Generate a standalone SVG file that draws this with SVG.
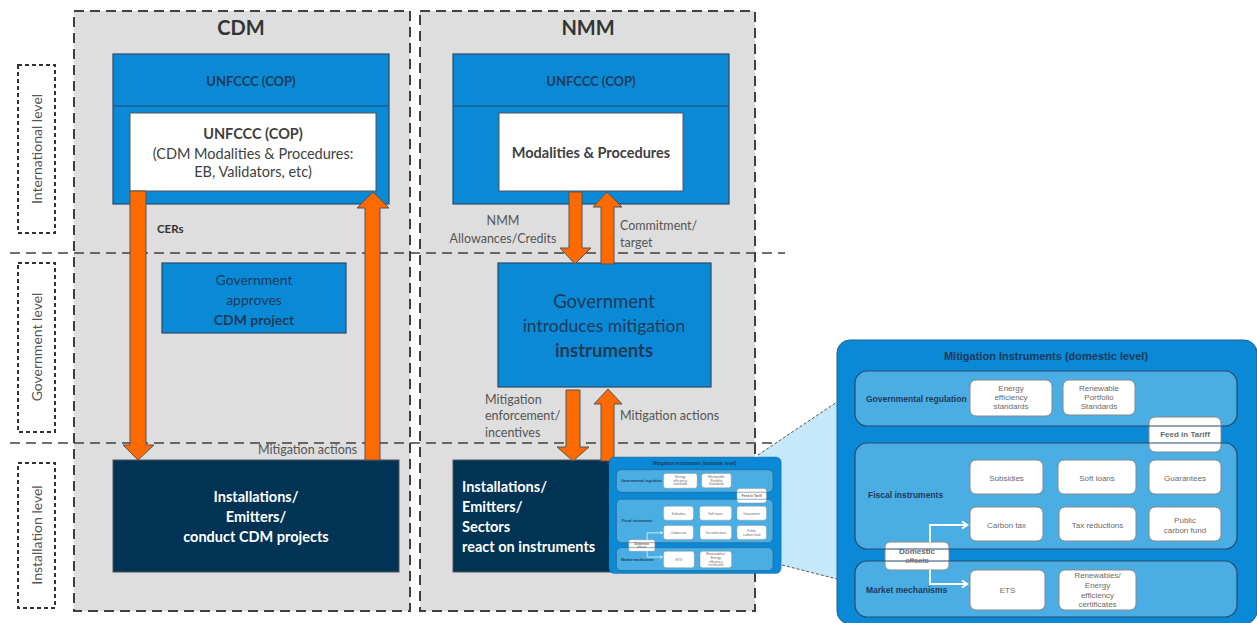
<svg xmlns="http://www.w3.org/2000/svg" xmlns:xlink="http://www.w3.org/1999/xlink" width="1257" height="623" viewBox="0 0 1257 623">
<style>
.cont{fill:#dedede;stroke:#404040;stroke-width:2;stroke-dasharray:10 6}
.lvl{fill:none;stroke:#333;stroke-width:2;stroke-dasharray:4 3}
.lvlt{font-family:Lato,"Liberation Sans",sans-serif;font-size:14px;fill:#555;text-anchor:middle}
.hl{stroke:#404040;stroke-width:1.5;stroke-dasharray:10 6;fill:none}
.blue{fill:#0a8ad6;stroke:#2b4a6b;stroke-width:1.2}
.white{fill:#fff;stroke:#555;stroke-width:1}
.navy{fill:#003354;stroke:#555;stroke-width:1}
.arr{fill:#ff6a00;stroke:#555;stroke-width:1}
.t{font-family:Lato,"Liberation Sans",sans-serif}
.c{text-anchor:middle}
.b{font-weight:bold}
.head{font-size:13px;fill:#1d3a5a;font-weight:bold}
.lab{font-size:12.5px;fill:#555}
.pt{font-family:"Liberation Sans",Arial,sans-serif;font-size:8px;fill:#6a6a6a;text-anchor:middle}
.pl{font-family:"Liberation Sans",Arial,sans-serif;font-size:8.5px;font-weight:bold;fill:#1d3a5a}
.row{fill:#4aaee4}
.rowo{fill:none;stroke:#2b4a6b;stroke-width:1.2}
.ib{fill:#fff;stroke:#888;stroke-width:1}
</style>
<defs>
<marker id="wa" markerWidth="8" markerHeight="8" refX="6" refY="4" orient="auto" markerUnits="userSpaceOnUse">
<path d="M1,0.5 L6.5,4 L1,7.5" fill="none" stroke="#fff" stroke-width="1.8"/>
</marker>
<g id="panel">
<rect x="0" y="0" width="420" height="284" rx="13" fill="#0a8ad6" stroke="#1e5f96" stroke-width="1"/>
<text x="209" y="20" font-family="Liberation Sans,Arial,sans-serif" font-size="11px" font-weight="bold" fill="#1d3a5a" text-anchor="middle">Mitigation Instruments (domestic level)</text>
<rect class="row" x="18" y="31" width="382" height="55" rx="12"/>
<rect class="row" x="18" y="103" width="382" height="106" rx="12"/>
<rect class="row" x="18" y="221" width="382" height="56" rx="12"/>
<text class="pl" x="29" y="62">Governmental regulation</text>
<text class="pl" x="31" y="158">Fiscal instruments</text>
<text class="pl" x="29" y="253">Market mechanisms</text>
<rect class="ib" x="133" y="40" width="82" height="36" rx="6"/>
<text class="pt" x="174" y="51">Energy</text>
<text class="pt" x="174" y="60">efficiency</text>
<text class="pt" x="174" y="69">standards</text>
<rect class="ib" x="226" y="40" width="72" height="35" rx="6"/>
<text class="pt" x="262" y="51">Renewable</text>
<text class="pt" x="262" y="60">Portfolio</text>
<text class="pt" x="262" y="69">Standards</text>
<rect class="ib" x="312" y="77" width="72" height="35" rx="6"/>
<text class="pt" x="348" y="97" font-weight="bold" fill="#333">Feed in Tariff</text>
<rect class="ib" x="133" y="120" width="73" height="34" rx="6"/>
<text class="pt" x="169.5" y="141">Subsidies</text>
<rect class="ib" x="221" y="120" width="78" height="34" rx="6"/>
<text class="pt" x="260" y="141">Soft loans</text>
<rect class="ib" x="312" y="120" width="72" height="34" rx="6"/>
<text class="pt" x="348" y="141">Guarantees</text>
<rect class="ib" x="133" y="167" width="73" height="34" rx="6"/>
<text class="pt" x="169.5" y="188">Carbon tax</text>
<rect class="ib" x="222" y="167" width="77" height="34" rx="6"/>
<text class="pt" x="260.5" y="188">Tax reductions</text>
<rect class="ib" x="312" y="167" width="72" height="34" rx="6"/>
<text class="pt" x="348" y="183">Public</text>
<text class="pt" x="348" y="193">carbon fund</text>
<rect class="ib" x="133" y="230" width="75" height="40" rx="6"/>
<text class="pt" x="170.5" y="253">ETS</text>
<rect class="ib" x="222" y="230" width="77" height="40" rx="6"/>
<text class="pt" x="260.5" y="238">Renewables/</text>
<text class="pt" x="260.5" y="248">Energy</text>
<text class="pt" x="260.5" y="258">efficiency</text>
<text class="pt" x="260.5" y="267">certificates</text>
<rect class="ib" x="48" y="202" width="64" height="28" rx="5"/>
<text class="pt" x="80" y="214" font-weight="bold" fill="#444">Domestic</text>
<text class="pt" x="80" y="223" font-size="6.5px">offsets</text>
<rect class="rowo" x="18" y="31" width="382" height="55" rx="12"/>
<rect class="rowo" x="18" y="103" width="382" height="106" rx="12"/>
<rect class="rowo" x="18" y="221" width="382" height="56" rx="12"/>
<path d="M93,202 V185 H130" fill="none" stroke="#fff" stroke-width="1.8" marker-end="url(#wa)"/>
<path d="M93,230 V244 H130" fill="none" stroke="#fff" stroke-width="1.8" marker-end="url(#wa)"/>
</g>
</defs>

<g id="level-labels">
<rect class="lvl" x="18" y="65" width="37" height="168"/>
<text class="lvlt" transform="translate(42,149) rotate(-90)">International level</text>
<rect class="lvl" x="18" y="263" width="37" height="169"/>
<text class="lvlt" transform="translate(42,347) rotate(-90)">Government level</text>
<rect class="lvl" x="18" y="463" width="37" height="145"/>
<text class="lvlt" transform="translate(42,535) rotate(-90)">Installation level</text>
</g>

<g id="cdm-container">
<rect class="cont" x="74" y="11" width="336" height="600"/>
<text class="t c b" x="241" y="35" font-size="20px" fill="#333">CDM</text>
</g>
<g id="nmm-container">
<rect class="cont" x="420" y="11" width="335" height="600"/>
<text class="t c b" x="588" y="35" font-size="20px" fill="#333">NMM</text>
</g>

<g id="level-lines">
<line class="hl" x1="10" y1="253" x2="785" y2="253"/>
<line class="hl" x1="10" y1="443" x2="775" y2="443"/>
</g>

<g id="cdm-unfccc">
<rect class="blue" x="113" y="54" width="276" height="150"/>
<line x1="113" y1="106" x2="389" y2="106" stroke="#2b4a6b" stroke-width="1.2"/>
<text class="t c head" x="251" y="86">UNFCCC (COP)</text>
</g>
<g id="cdm-modalities">
<rect class="white" x="130" y="113" width="246" height="78"/>
<text class="t c b" x="253" y="139" font-size="14.5px" fill="#404040">UNFCCC (COP)</text>
<text class="t c" x="253" y="159" font-size="14.5px" fill="#404040">(CDM Modalities &amp; Procedures:</text>
<text class="t c" x="253" y="177" font-size="14.5px" fill="#404040">EB, Validators, etc)</text>
</g>
<g id="cdm-government">
<rect class="blue" x="162" y="263" width="184" height="70"/>
<text class="t c" x="254" y="285" font-size="14px" fill="#1d3a5a">Government</text>
<text class="t c" x="254" y="305" font-size="14px" fill="#1d3a5a">approves</text>
<text class="t c b" x="254" y="325" font-size="14px" fill="#1d3a5a">CDM project</text>
</g>
<g id="cdm-installations">
<rect class="navy" x="113" y="460" width="286" height="112"/>
<text class="t c b" x="256" y="502" font-size="14.5px" fill="#fff">Installations/</text>
<text class="t c b" x="256" y="522" font-size="14.5px" fill="#fff">Emitters/</text>
<text class="t c b" x="256" y="542" font-size="14.5px" fill="#fff">conduct CDM projects</text>
</g>

<g id="nmm-unfccc">
<rect class="blue" x="453" y="54" width="276" height="150"/>
<line x1="453" y1="106" x2="729" y2="106" stroke="#2b4a6b" stroke-width="1.2"/>
<text class="t c head" x="591" y="86">UNFCCC (COP)</text>
</g>
<g id="nmm-modalities">
<rect class="white" x="499" y="113" width="184" height="78"/>
<text class="t c b" x="591" y="158" font-size="14.5px" fill="#404040">Modalities &amp; Procedures</text>
</g>
<g id="nmm-government">
<rect class="blue" x="498" y="263" width="213" height="124"/>
<text class="t c" x="604" y="308" font-size="18.5px" fill="#1d3a5a">Government</text>
<text class="t c" x="604" y="332" font-size="17.5px" fill="#1d3a5a">introduces mitigation</text>
<text class="t c b" x="604" y="357" font-size="18.5px" fill="#1d3a5a">instruments</text>
</g>
<g id="nmm-installations">
<rect class="navy" x="453" y="460" width="200" height="112"/>
<text class="t b" x="462" y="492" font-size="14.5px" fill="#fff">Installations/</text>
<text class="t b" x="462" y="512" font-size="14.5px" fill="#fff">Emitters/</text>
<text class="t b" x="462" y="532" font-size="14.5px" fill="#fff">Sectors</text>
<text class="t b" x="462" y="552" font-size="14.5px" fill="#fff">react on instruments</text>
</g>

<g id="connectors">
<polygon class="arr" points="130,191 146,191 146,445 154,445 138,460 123,445 130,445"/>
<polygon class="arr" points="373,192 389,208 380,208 380,460 365,460 365,208 357,208"/>
<polygon class="arr" points="569,192 582,192 582,248 591,248 575,264 560,248 569,248"/>
<polygon class="arr" points="607,192 622,207 614,207 614,264 601,264 601,207 593,207"/>
<polygon class="arr" points="566,390 580,390 580,447 589,447 573,461 557,447 566,447"/>
<polygon class="arr" points="608,389 622,404 614,404 614,461 601,461 601,404 594,404"/>
</g>

<g id="connector-labels">
<text class="t b" x="157" y="233" font-size="11.5px" fill="#333">CERs</text>
<text class="t lab" x="258" y="454">Mitigation actions</text>
<text class="t lab c" x="503" y="225">NMM</text>
<text class="t lab c" x="503" y="243">Allowances/Credits</text>
<text class="t lab" x="620" y="230">Commitment/</text>
<text class="t lab" x="620" y="247">target</text>
<text class="t lab" x="485" y="404">Mitigation</text>
<text class="t lab" x="485" y="420">enforcement/</text>
<text class="t lab" x="485" y="437">incentives</text>
<text class="t lab" x="620" y="420">Mitigation actions</text>
</g>

<g id="zoom-wedge">
<polygon points="758,455 837,402 837,579 782,565" fill="#c5e8fa"/>
<line x1="758" y1="455" x2="837" y2="402" stroke="#555" stroke-width="1" stroke-dasharray="3 2"/>
<line x1="782" y1="565" x2="837" y2="579" stroke="#555" stroke-width="1" stroke-dasharray="3 2"/>
</g>

<g id="instruments-thumbnail">
<use xlink:href="#panel" href="#panel" transform="translate(609,457) scale(0.41)"/>
</g>

<g id="instruments-panel">
<use xlink:href="#panel" href="#panel" transform="translate(837,340)"/>
</g>
</svg>
